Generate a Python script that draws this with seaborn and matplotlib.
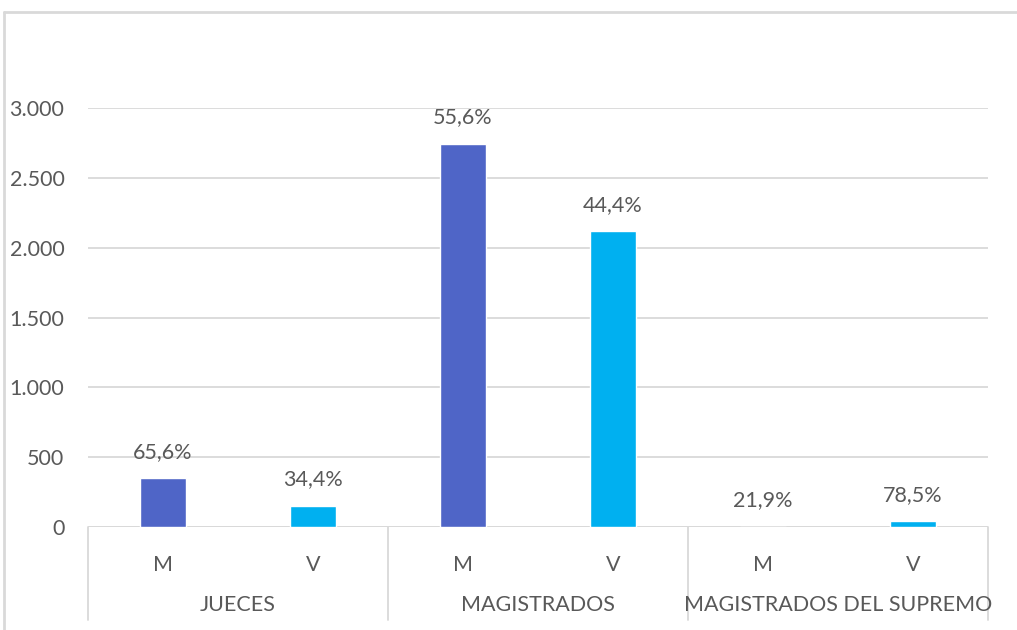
import matplotlib
matplotlib.use('Agg')
import matplotlib.pyplot as plt
import matplotlib.transforms as mtransforms
from matplotlib.lines import Line2D
import pandas as pd
import seaborn as sns

# ── datos ─────────────────────────────────────────────
grupos   = ['JUECES', 'MAGISTRADOS', 'MAGISTRADOS DEL SUPREMO']
sexos    = ['M', 'V']
valores  = [348, 152, 2745, 2116, 3, 40]
pcts     = ['65,6%', '34,4%', '55,6%', '44,4%', '21,9%', '78,5%']
colores  = {'M': '#4F65C7', 'V': '#00B0F0'}

df = pd.DataFrame({
    'grupo': [g for g in grupos for _ in sexos],
    'sexo':  sexos * len(grupos),
    'valor': valores,
    'pct':   pcts,
})
df['clave'] = df['grupo'] + '|' + df['sexo']

sns.set_theme(style='white')
plt.rcParams['font.family'] = ['Lato', 'DejaVu Sans']
GRIS_TXT = '#595959'
GRIS_LIN = '#D9D9D9'
FS = 15.5

fig = plt.figure(figsize=(10.17, 6.3), dpi=100)
W, H = 1017, 630
ax = fig.add_axes([88 / W, 1 - 527 / H, 900 / W, 419 / H])

sns.barplot(data=df, x='clave', y='valor', hue='sexo', hue_order=sexos,
            palette=colores, saturation=1, dodge=False, width=0.31,
            legend=False, order=list(df['clave']), ax=ax, zorder=3)

# etiquetas de porcentaje
for cont, s in zip(ax.containers, sexos):
    labs = list(df.loc[df['sexo'] == s, 'pct'])
    ax.bar_label(cont, labels=labs, padding=12, fontsize=FS, color=GRIS_TXT)

ax.set_ylim(0, 3000)
ax.set_xlim(-0.5, len(df) - 0.5)
ax.set_yticks(range(0, 3001, 500))
ax.set_yticklabels([f'{v:,}'.replace(',', '.') for v in range(0, 3001, 500)],
                   fontsize=FS, color=GRIS_TXT)
ax.tick_params(axis='y', length=0, pad=17)
ax.yaxis.grid(True, color=GRIS_LIN, linewidth=1.3, zorder=0)
ax.set_axisbelow(True)
for sp in ax.spines.values():
    sp.set_visible(False)
ax.axhline(0, color=GRIS_LIN, linewidth=1.3, zorder=2)

ax.set_xticks(range(len(df)))
ax.set_xticklabels(df['sexo'], fontsize=FS, color=GRIS_TXT)
ax.tick_params(axis='x', length=0, pad=20)
ax.set_xlabel('')
ax.set_ylabel('')

# ejes de categorías agrupadas
trans = mtransforms.blended_transform_factory(ax.transData, ax.transAxes)
for i in range(len(grupos) + 1):
    x = i * len(sexos) - 0.5
    ax.plot([x, x], [0, -93 / 419], color=GRIS_LIN, linewidth=1.3,
            transform=trans, clip_on=False)
for i, g in enumerate(grupos):
    x = i * len(sexos) + (len(sexos) - 1) / 2
    ax.text(x, -78 / 419, g, transform=trans, ha='center', va='center',
            fontsize=FS, color=GRIS_TXT)

# borde del gráfico
fig.add_artist(Line2D([4 / W, 4 / W], [0, 1 - 12 / H], color=GRIS_LIN, linewidth=2))
fig.add_artist(Line2D([4 / W, 1], [1 - 12 / H, 1 - 12 / H], color=GRIS_LIN, linewidth=2))

fig.savefig('out.png', dpi=100)
plt.close(fig)
